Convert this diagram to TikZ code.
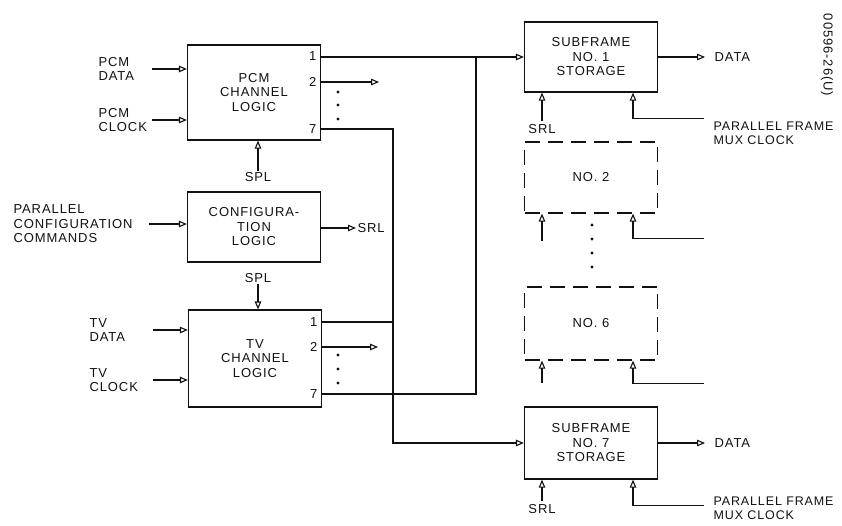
\documentclass[tikz,border=0pt]{standalone}
\usepackage{fontspec}
\setmainfont{Liberation Sans}[LetterSpace=7]
\usetikzlibrary{arrows.meta}
\definecolor{ink}{HTML}{111111}
\newcommand{\dgfont}{\fontsize{13}{14.5}\selectfont}
\newcommand{\smfont}{\fontsize{12.5}{14}\selectfont}
\newcommand{\idfont}{\fontsize{13}{15}\selectfont}

\begin{document}
\begin{tikzpicture}[x=1pt,y=-1pt,font=\dgfont,ink,line width=1.1pt,
  >={Triangle[open,length=8pt,width=6.5pt]},
  blk/.style={draw=ink,line width=1.2pt,minimum width=133pt,align=center,inner sep=0pt},
  dashbox/.style={dash pattern=on 15pt off 8pt},
  lab/.style={align=left,inner sep=1pt},
  port/.style={inner sep=1pt,anchor=east}]
\useasboundingbox (0,0) rectangle (842,525);
\node[blk,minimum height=95pt] (pcm) at (254,92.5) {PCM\\CHANNEL\\LOGIC};
\node[blk,minimum height=70pt] (conf) at (254,227) {CONFIGURA-\\TION\\LOGIC};
\node[blk,minimum height=97pt] (tv) at (255,358.5) {TV\\CHANNEL\\LOGIC};
\node[blk,minimum height=70pt] (sub1) at (591,57) {SUBFRAME\\NO. 1\\STORAGE};
\node[blk,dashbox,minimum height=71pt] (no2) at (591,177.5) {NO. 2};
\node[blk,dashbox,minimum height=73pt] (no6) at (591,323.5) {NO. 6};
\node[blk,minimum height=72pt] (sub7) at (591,443) {SUBFRAME\\NO. 7\\STORAGE};

\node[port] (pcmA) at (318,56) {1};
\node[port] (pcmB) at (318,82) {2};
\node[port] (pcmG) at (318,129) {7};
\node[port] (tvA) at (319,322) {1};
\node[port] (tvB) at (319,347) {2};
\node[port] (tvG) at (319,394) {7};

\node[lab,anchor=west] (pcmdat) at (97,69) {PCM\\DATA};
\node[lab,anchor=west] (pcmclk) at (97,120) {PCM\\CLOCK};
\node[lab,anchor=west] (cfgcmd) at (12,224) {PARALLEL\\CONFIGURATION\\COMMANDS};
\node[lab,anchor=west] (tvdat) at (88,330) {TV\\DATA};
\node[lab,anchor=west] (tvclk) at (88,380) {TV\\CLOCK};
\draw[<-] (pcm.west |- pcmdat) -- +(-35,0);
\draw[<-] (pcm.west |- pcmclk) -- +(-35,0);
\draw[<-] (conf.west |- cfgcmd) -- +(-38,0);
\draw[<-] (tv.west |- tvdat) -- +(-35,0);
\draw[<-] (tv.west |- tvclk) -- +(-35,0);

\node[lab] (splA) at (258,177) {SPL};
\node[lab] (splB) at (258,278) {SPL};
\draw[->] (splA) -- (splA |- pcm.south);
\draw[->] (splB) -- (splB |- tv.north);
\node[lab,anchor=west] (srlC) at (356,228) {SRL};
\draw[->] (conf.east |- srlC) -- (srlC.west);

\coordinate (busL) at (393,0);
\coordinate (busR) at (476,0);
\draw[->] (pcm.east |- sub1) -- (sub1);
\draw[->] (pcm.east |- pcmB) -- +(58,0);
\draw[->] (pcm.east |- pcmG) -| (busL |- sub7) -- (sub7);
\draw (tv.east |- tvA) -- (busL |- tvA);
\draw[->] (tv.east |- tvB) -- +(56,0);
\draw (tv.east |- tvG) -| (busR |- sub1);

\foreach \y in {92,105,119} \fill (338,\y) circle (1.7pt);
\foreach \y in {355,369,383} \fill (338,\y) circle (1.7pt);
\foreach \y in {225,239,253,267} \fill (592,\y) circle (1.7pt);

\draw[->] (sub1.east) -- +(47,0) node[lab,right=8pt] (dat1) {DATA};
\draw[->] (sub7.east) -- +(47,0) node[lab,right=8pt] (dat7) {DATA};

\coordinate (srlx) at (542,0);
\coordinate (ckx) at (633,0);
\foreach \b/\s/\c in {sub1/28/26,no2/27/25,no6/22/23,sub7/21/26} {
  \draw[<-] (\b.south -| srlx) -- +(0,\s);
  \draw[<-] (\b.south -| ckx) |- +(71,\c);
}
\node[lab,anchor=north] (srl1) at (542,123) {SRL};
\node[lab,anchor=north] (srl7) at (542,503) {SRL};
\node[lab,anchor=west,font=\smfont] (mux1) at (712,133) {PARALLEL FRAME\\MUX CLOCK};
\node[lab,anchor=west,font=\smfont] (mux7) at (712,508) {PARALLEL FRAME\\MUX CLOCK};

\node[rotate=-90,font=\idfont,inner sep=0pt] (figid) at (827,55) {00596-26(U)};
\end{tikzpicture}
\end{document}
